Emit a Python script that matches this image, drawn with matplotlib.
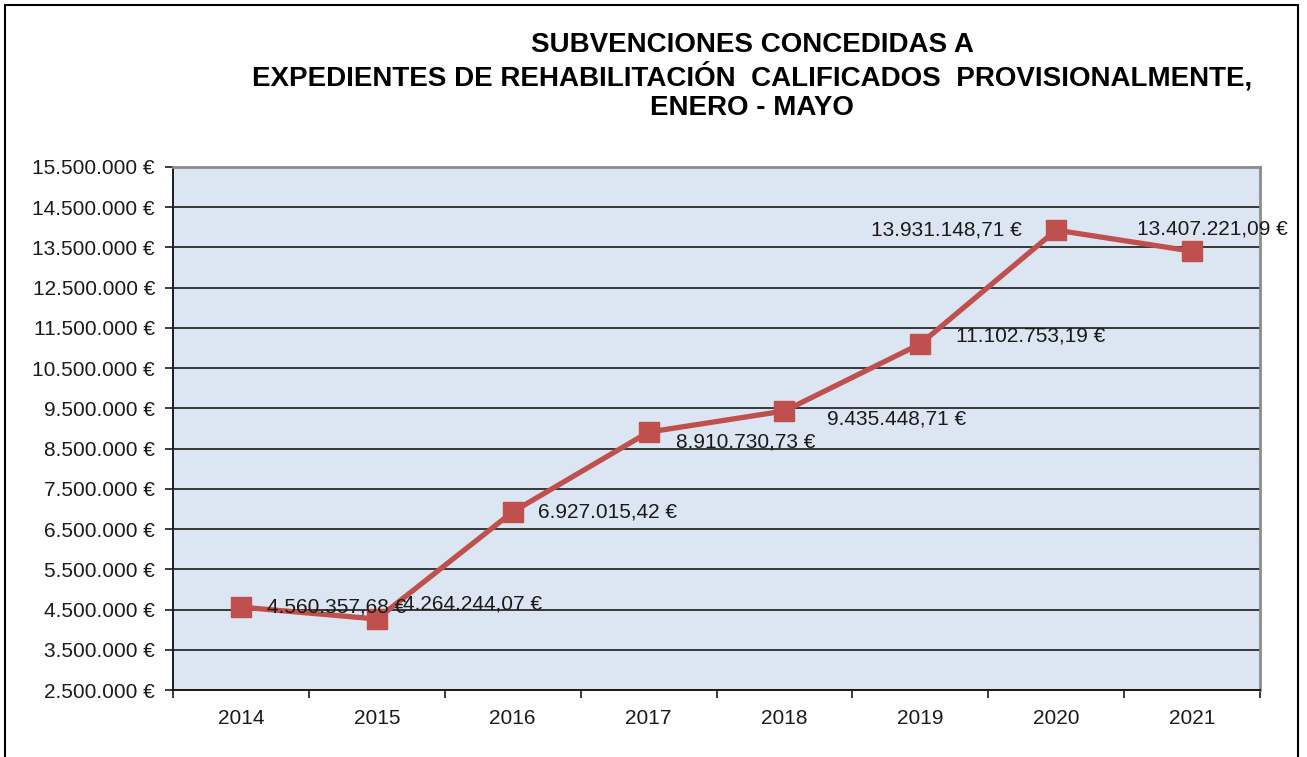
import matplotlib
matplotlib.use('Agg')
import matplotlib.pyplot as plt
from matplotlib.patches import Rectangle
from matplotlib.ticker import FixedLocator, FuncFormatter

plt.rcParams['font.family'] = ['Liberation Sans', 'DejaVu Sans']

# Data
years = ['2014', '2015', '2016', '2017', '2018', '2019', '2020', '2021']
values = [4560357.68, 4264244.07, 6927015.42, 8910730.73,
          9435448.71, 11102753.19, 13931148.71, 13407221.09]
labels = ['4.560.357,68 €', '4.264.244,07 €', '6.927.015,42 €', '8.910.730,73 €',
          '9.435.448,71 €', '11.102.753,19 €', '13.931.148,71 €', '13.407.221,09 €']
title_lines = ['SUBVENCIONES CONCEDIDAS A',
               'EXPEDIENTES DE REHABILITACIÓN  CALIFICADOS  PROVISIONALMENTE,',
               'ENERO - MAYO']

# label offsets in points (dx, dy, ha)
offsets = [(19, 0, 'left'), (19, 11, 'left'), (18, 0, 'left'), (20, -7, 'left'),
           (31, -6, 'left'), (26, 6, 'left'), (-25, 0, 'right'), (-40, 16, 'left')]

fig = plt.figure(figsize=(13.07, 7.57), dpi=100)
ax = fig.add_axes([173/1307, 1 - 690/757, (1260 - 173)/1307, (690 - 167)/757])
ax.set_facecolor('#dce6f2')

x = list(range(len(years)))
ax.plot(x, values, color='#c0504d', linewidth=3.8, marker='s', markersize=14,
        markerfacecolor='#c0504d', markeredgecolor='#c0504d', zorder=3)

for xi, v, lab, (dx, dy, ha) in zip(x, values, labels, offsets):
    ax.annotate(lab, (xi, v), xytext=(dx, dy), textcoords='offset points',
                ha=ha, va='center', fontsize=15, color='#1a1a1a', zorder=4)

ax.set_xlim(-0.5, len(years) - 0.5)
ax.set_ylim(2500000, 15500000)
ax.yaxis.set_major_locator(FixedLocator([2500000 + 1000000 * i for i in range(14)]))
ax.yaxis.set_major_formatter(FuncFormatter(lambda v, p: f'{int(v):,} €'.replace(',', '.')))
ax.grid(axis='y', color='#1a1a1a', linewidth=1.2, zorder=1)
ax.set_axisbelow(True)

ax.set_xticks(x)
ax.set_xticklabels(years)
ax.xaxis.set_minor_locator(FixedLocator([i - 0.5 for i in range(len(years) + 1)]))
ax.tick_params(axis='x', which='major', length=0, pad=14, labelsize=15, labelcolor='#1a1a1a')
ax.tick_params(axis='x', which='minor', length=6, width=1.2, direction='out', color='#1a1a1a')
ax.tick_params(axis='y', length=6, width=1.2, direction='out', pad=7,
               labelsize=15, labelcolor='#1a1a1a', color='#1a1a1a')

for s in ['left', 'bottom']:
    ax.spines[s].set_color('#1a1a1a')
    ax.spines[s].set_linewidth(1.4)
for s in ['top', 'right']:
    ax.spines[s].set_color('#8c8c8c')
    ax.spines[s].set_linewidth(2)

# title
for i, line in enumerate(title_lines):
    fig.text(752/1307, 1 - (45 + 31.5 * i)/757, line, ha='center', va='center',
             fontsize=20, fontweight='bold', color='black')

# outer frame
fig.add_artist(Rectangle((5/1307, -0.02), (1298 - 5)/1307, 1.02 - 5/757,
                         transform=fig.transFigure, fill=False,
                         edgecolor='black', linewidth=1.5, clip_on=False))

fig.savefig('out.png', dpi=100)
